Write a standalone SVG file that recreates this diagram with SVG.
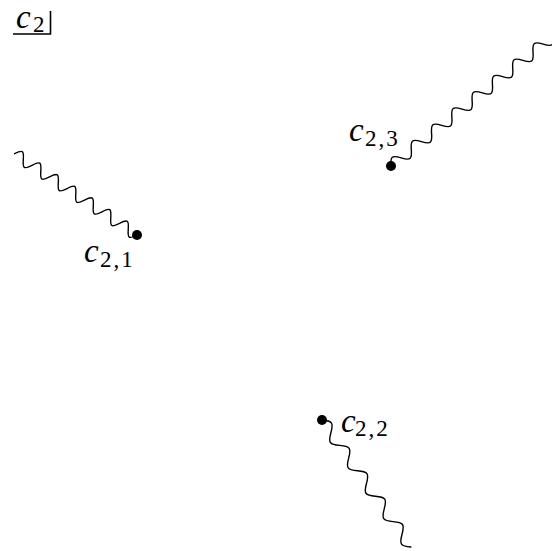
<svg xmlns="http://www.w3.org/2000/svg" width="552" height="551" viewBox="0 0 552 551">
<style>
.bg{fill:#ffffff}
.snake{fill:none;stroke:#000;stroke-width:1.4;stroke-linecap:round;stroke-linejoin:round}
.dot{fill:#000}
.frame{fill:none;stroke:#000;stroke-width:1.6}
.v{font-family:"Liberation Serif","DejaVu Serif",serif;font-style:italic;font-size:33px;fill:#000}
.s{font-family:"Liberation Serif","DejaVu Serif",serif;font-size:23px;letter-spacing:2px;fill:#000}
</style>
<rect class="bg" x="0" y="0" width="552" height="551"/>
<g id="connectors">
  <path class="snake" transform="translate(137,235) rotate(-146.4)" d="M0,0 c4.5,-8 6,-8 10.5,0 s6,8 10.5,0 s6,-8 10.5,0 s6,8 10.5,0 s6,-8 10.5,0 s6,8 10.5,0 s6,-8 10.5,0 s6,8 10.5,0 s6,-8 10.5,0 s6,8 10.5,0 s6,-8 10.5,0 s6,8 10.5,0 s6,-8 10.5,0 s6,8 10.5,0"/>
  <path class="snake" transform="translate(391,166) rotate(-38.7)" d="M0,0 c5.5,-8 7.5,-8 13,0 s7.5,8 13,0 s7.5,-8 13,0 s7.5,8 13,0 s7.5,-8 13,0 s7.5,8 13,0 s7.5,-8 13,0 s7.5,8 13,0 s7.5,-8 13,0 s7.5,8 13,0 s7.5,-8 13,0 s7.5,8 13,0 s7.5,-8 13,0 s7.5,8 13,0 s7.5,-8 13,0 s7.5,8 13,0"/>
  <path class="snake" transform="translate(322,420) rotate(55)" d="M0,0 c6.58,-8 8.92,-8 15.5,0 s8.92,8 15.5,0 s8.92,-8 15.5,0 s8.92,8 15.5,0 s8.92,-8 15.5,0 s8.92,8 15.5,0 s8.92,-8 15.5,0 s8.92,8 15.5,0 s8.92,-8 15.5,0 s8.92,8 15.5,0"/>
</g>
<g id="c2">
  <path class="frame" d="M13,34 H50.5 V11"/>
  <text class="v" x="16" y="28">c</text>
  <text class="s" x="33" y="32">2</text>
</g>
<g id="c21">
  <circle class="dot" cx="137" cy="235" r="5"/>
  <text class="v" x="84" y="262">c</text>
  <text class="s" x="100" y="267">2,1</text>
</g>
<g id="c23">
  <circle class="dot" cx="391" cy="166" r="5"/>
  <text class="v" x="349" y="141">c</text>
  <text class="s" x="365" y="146">2,3</text>
</g>
<g id="c22">
  <circle class="dot" cx="322" cy="420" r="5"/>
  <text class="v" x="341" y="432">c</text>
  <text class="s" x="355" y="436">2,2</text>
</g>
</svg>
